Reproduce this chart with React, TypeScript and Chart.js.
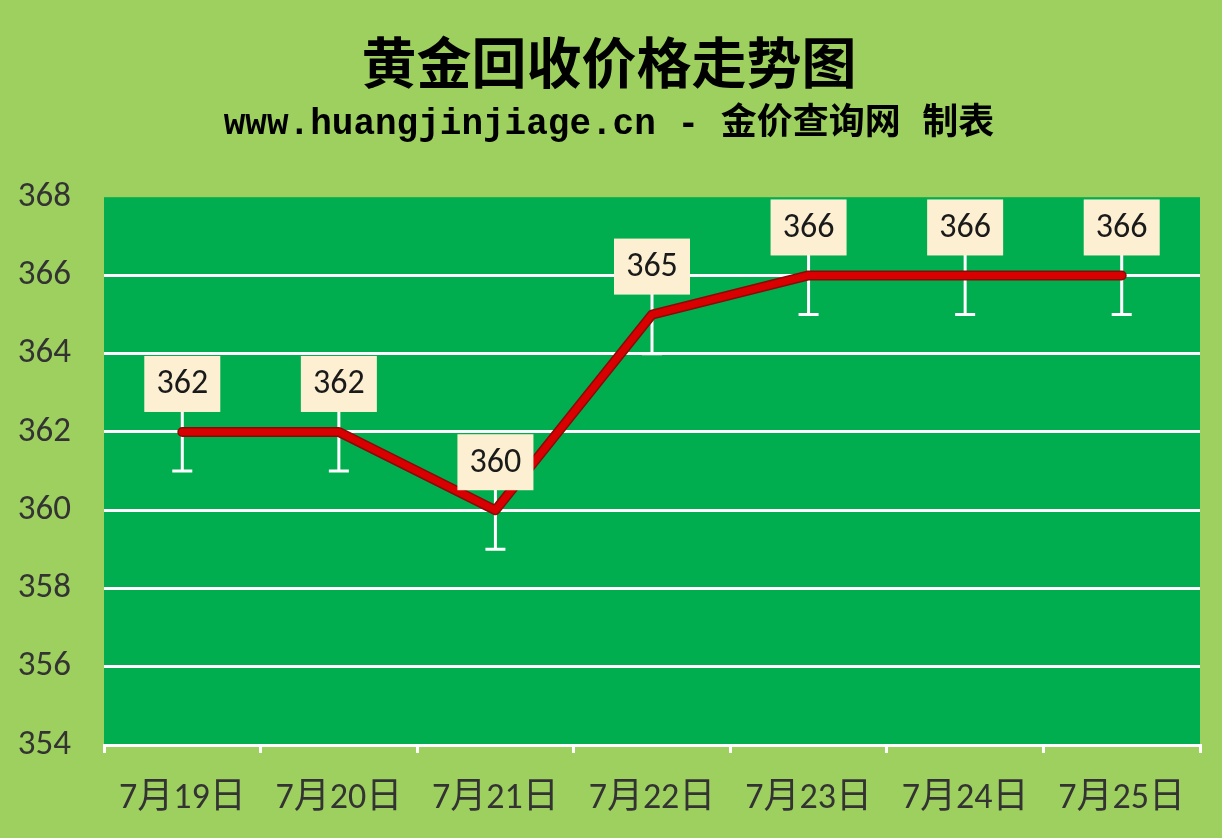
import { useEffect, useRef } from 'react';
import { Chart, registerables } from 'chart.js';

Chart.register(...registerables);

const categories = ['7月19日', '7月20日', '7月21日', '7月22日', '7月23日', '7月24日', '7月25日'];
const prices = [362, 362, 360, 365, 366, 366, 366];
const errorPlus = [1, 1, 1, 1, 1, 1, 1];
const errorMinus = [1, 1, 1, 1, 1, 1, 1];
const yTicks = [354, 356, 358, 360, 362, 364, 366, 368];

const PAGE_BG = '#9ed05f';
const PLOT_BG = '#00ad4f';
const TEXT_FONT = '"Carlito", "Open Sans", "Noto Sans CJK SC", sans-serif';

// fills the plot area, then draws the white error bars under the line
const plotDecor = {
  id: 'plotDecor',
  beforeDraw(chart: any) {
    const { ctx, chartArea: a } = chart;
    ctx.save();
    ctx.fillStyle = PAGE_BG;
    ctx.fillRect(0, 0, chart.width, chart.height);
    ctx.fillStyle = PLOT_BG;
    ctx.fillRect(a.left, a.top, a.right - a.left, a.bottom - a.top);
    ctx.restore();
  },
  beforeDatasetsDraw(chart: any) {
    const { ctx } = chart;
    const x = chart.scales.x;
    const y = chart.scales.y;
    ctx.save();
    ctx.strokeStyle = '#ffffff';
    ctx.lineWidth = 3;
    prices.forEach((v, i) => {
      const px = x.getPixelForValue(i);
      const top = y.getPixelForValue(v + errorPlus[i]);
      const bot = y.getPixelForValue(v - errorMinus[i]);
      ctx.beginPath();
      ctx.moveTo(px, top);
      ctx.lineTo(px, bot);
      ctx.moveTo(px - 10, top);
      ctx.lineTo(px + 10, top);
      ctx.moveTo(px - 10, bot);
      ctx.lineTo(px + 10, bot);
      ctx.stroke();
    });
    ctx.restore();
  },
  afterDatasetsDraw(chart: any) {
    const { ctx } = chart;
    const x = chart.scales.x;
    const y = chart.scales.y;
    ctx.save();
    ctx.font = `34px ${TEXT_FONT}`;
    ctx.textAlign = 'center';
    ctx.textBaseline = 'middle';
    prices.forEach((v, i) => {
      const px = x.getPixelForValue(i);
      const cy = y.getPixelForValue(v) - 48;
      ctx.fillStyle = '#fdf0d2';
      ctx.fillRect(px - 38, cy - 28, 76, 56);
      ctx.fillStyle = '#1a1a1a';
      ctx.fillText(String(v), px, cy + 1);
    });
    ctx.restore();
  },
};

export default function App() {
  const chartRef = useRef<HTMLCanvasElement>(null);
  const chartInstance = useRef<Chart | null>(null);

  useEffect(() => {
    document.body.style.margin = '0';
    document.body.style.background = PAGE_BG;
    if (!chartRef.current) return;
    const ctx = chartRef.current.getContext('2d');
    if (!ctx) return;

    chartInstance.current = new Chart(ctx, {
      type: 'line',
      data: {
        labels: categories,
        datasets: [
          {
            label: '金价',
            data: prices,
            borderColor: '#d80000',
            borderWidth: 7,
            pointRadius: 0,
            tension: 0,
            borderCapStyle: 'round',
            borderJoinStyle: 'round',
            order: 0,
          },
          {
            label: 'outline',
            data: prices,
            borderColor: '#8a0a0a',
            borderWidth: 10,
            pointRadius: 0,
            tension: 0,
            borderCapStyle: 'round',
            borderJoinStyle: 'round',
            order: 1,
          },
        ],
      },
      options: {
        animation: false,
        responsive: false,
        layout: { padding: { left: 18, right: 22, bottom: 0 } },
        plugins: {
          legend: { display: false },
          tooltip: { enabled: false },
          title: {
            display: true,
            text: '黄金回收价格走势图',
            color: '#000000',
            font: { size: 55, weight: 'bold', family: '"Noto Sans CJK SC", serif' },
            padding: { top: 29, bottom: 8 },
          },
          subtitle: {
            display: true,
            text: 'www.huangjinjiage.cn - 金价查询网 制表',
            color: '#000000',
            font: { size: 36, weight: 'bold', family: '"Liberation Mono", "Noto Sans CJK SC", monospace' },
            padding: { top: 0, bottom: 51 },
          },
        },
        scales: {
          x: {
            offset: true,
            afterFit: (scale: any) => {
              scale.height = 93;
            },
            grid: {
              offset: true,
              drawOnChartArea: false,
              drawTicks: true,
              tickLength: 8,
              color: '#ffffff',
              lineWidth: 3,
            },
            border: { color: '#ffffff', width: 3 },
            ticks: {
              color: '#333333',
              font: { size: 36, family: TEXT_FONT },
              padding: 24,
            },
          },
          y: {
            min: 354,
            max: 368,
            afterBuildTicks: (scale: any) => {
              scale.ticks = yTicks.map((v) => ({ value: v }));
            },
            afterFit: (scale: any) => {
              scale.width = 86;
            },
            grid: {
              drawTicks: false,
              color: (c: any) =>
                c.tick && (c.tick.value === 368 || c.tick.value === 354) ? 'rgba(0,0,0,0)' : '#ffffff',
              lineWidth: 3,
            },
            border: { display: false },
            ticks: {
              color: '#333333',
              font: { size: 35, family: TEXT_FONT },
              padding: 33,
            },
          },
        },
      },
      plugins: [plotDecor],
    });

    return () => {
      if (chartInstance.current) {
        chartInstance.current.destroy();
      }
    };
  }, []);

  return (
    <div style={{ width: 1222, height: 838, background: PAGE_BG }}>
      <canvas ref={chartRef} width={1222} height={838} />
    </div>
  );
}
